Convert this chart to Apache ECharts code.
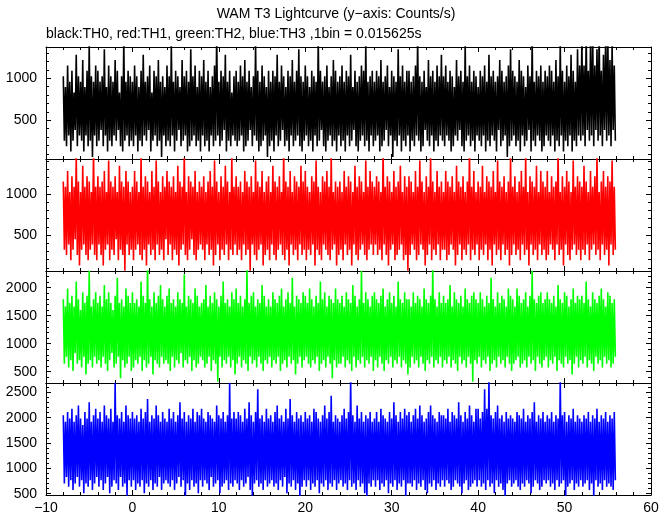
<!DOCTYPE html>
<html><head><meta charset="utf-8">
<script src="https://cdn.jsdelivr.net/npm/echarts@6/dist/echarts.min.js"></script>
<style>html,body{margin:0;padding:0;background:#fff}#c{width:672px;height:515px}</style>
</head><body><div id="c"></div>
<script>
const titleText = 'WAM T3 Lightcurve (y\u2212axis: Counts/s)';
const subtitleText = 'black:TH0, red:TH1, green:TH2, blue:TH3 ,1bin = 0.015625s';
const binSize = 0.015625;      // s per bin
const tStart = -8;             // s, first sample
const tStep = 0.125;           // s between plotted samples
const xMin = -10, xMax = 60, xInterval = 10;

// counts per bin
const th0 = [
16,4,14,3,18,5,15,2,17,4,13,6,20,3,16,5,15,4,19,2,14,5,17,3,22,4,16,1,15,5,18,3,
17,4,15,6,16,3,21,5,14,2,18,4,16,3,15,5,19,4,17,6,13,3,16,2,23,4,15,5,17,3,16,4,
15,3,18,5,16,2,14,4,17,3,20,5,15,4,16,6,18,2,13,4,17,5,16,3,19,4,15,1,16,5,14,3,
18,4,16,3,22,5,15,2,17,4,16,6,14,3,19,4,16,5,17,2,15,3,21,4,16,5,18,3,14,4,17,2,
16,5,19,3,15,4,17,2,14,5,16,3,18,4,24,5,15,3,17,4,16,6,20,2,15,4,17,3,13,5,16,4,
17,3,15,4,18,5,16,2,19,3,15,4,17,6,14,3,16,5,22,4,17,2,15,3,18,4,16,5,14,1,17,3,
15,4,17,2,16,5,20,3,15,4,18,6,16,3,14,4,17,2,16,5,19,3,15,4,17,5,21,3,16,2,15,4,
18,5,16,3,14,4,17,2,16,5,15,3,23,4,17,6,15,3,16,2,18,4,14,5,16,3,19,4,17,2,15,5,
16,3,18,4,15,2,17,5,16,3,20,4,14,6,17,3,15,2,16,4,18,5,17,3,22,4,15,2,16,5,17,3,
15,4,17,5,16,2,19,3,15,4,16,6,18,3,14,5,17,1,16,4,15,3,21,5,16,2,18,4,15,3,17,5,
17,2,15,4,16,3,18,5,23,4,16,2,15,3,17,6,14,4,19,3,16,5,17,2,15,4,18,3,16,5,20,4,
16,3,18,5,15,4,17,2,16,3,14,5,19,4,16,6,17,3,15,2,22,4,16,5,18,3,15,4,17,2,16,5,
14,4,17,3,16,5,18,2,15,4,20,3,16,5,17,4,15,2,16,6,19,3,17,4,15,5,16,1,18,3,21,4,
17,5,16,3,15,4,19,2,17,5,16,3,14,4,18,6,16,2,23,4,15,3,17,5,16,4,18,2,15,3,17,5,
16,4,18,3,17,5,15,2,19,4,16,3,22,5,17,2,15,4,18,3,16,5,20,2,17,4,15,3,21,5,18,4,
23,5,18,3,24,6,17,4,22,5,24,3,18,6,21,4,24,5,17,3,20,6,23,4,24,5,19,3,22,6,18,4
];
const th1 = [
18,5,17,4,20,6,16,3,19,5,17,7,23,4,18,2,16,5,21,6,17,4,19,3,18,5,16,6,24,4,17,3,
19,6,17,4,18,2,20,5,16,6,22,3,18,5,17,4,19,7,16,3,21,5,18,4,17,1,20,6,18,4,16,5,
17,3,20,5,18,6,16,4,23,3,17,5,19,2,18,6,16,4,20,5,17,3,22,6,18,4,16,5,19,3,17,7,
20,4,18,6,17,3,19,5,16,4,21,2,18,5,17,6,24,4,16,3,19,5,18,7,17,4,20,3,16,5,18,6,
17,5,19,3,16,6,18,4,20,5,17,2,22,4,18,6,16,3,19,5,17,4,21,6,18,3,16,5,23,4,17,6,
19,4,17,5,18,3,16,6,20,4,18,5,17,1,19,6,16,4,22,3,18,5,17,6,20,2,16,4,18,5,19,3,
16,6,21,4,18,3,17,5,19,6,16,4,24,3,18,5,17,2,20,6,16,4,19,5,18,3,17,6,21,4,18,5,
20,3,17,5,16,4,19,6,18,2,22,5,17,4,16,3,19,6,18,5,20,4,17,3,23,5,16,6,18,2,17,4,
18,5,16,3,20,6,17,4,19,5,18,2,16,6,21,4,17,3,19,5,18,6,16,4,22,3,17,5,20,6,18,4,
17,6,19,4,18,5,16,3,24,6,17,4,19,2,18,5,16,6,20,3,17,4,18,5,21,6,16,3,19,4,17,1,
19,4,18,6,16,5,20,3,17,4,22,6,18,5,16,2,19,4,17,6,23,3,18,5,16,4,20,6,17,3,18,5,
16,5,20,3,18,4,17,6,19,5,16,2,21,4,18,6,17,3,19,5,16,4,18,6,24,3,17,5,20,4,16,6,
18,3,17,5,21,4,16,6,19,3,18,5,17,2,20,6,16,4,22,5,18,3,17,6,19,4,16,5,18,2,23,4,
17,6,19,4,16,5,18,3,20,6,17,4,23,5,16,2,19,6,18,4,17,5,21,3,16,6,20,4,18,5,17,3,
20,4,16,6,19,5,17,3,18,6,24,4,16,5,19,2,17,6,20,4,18,3,16,5,22,6,17,4,19,5,18,3,
17,5,21,4,18,6,16,3,20,5,17,6,19,4,23,5,16,3,18,6,20,4,17,5,19,2,18,6,22,4,17,5
];
const th2 = [
28,10,26,12,31,9,27,11,29,8,26,13,33,10,28,11,25,9,30,12,27,7,29,10,36,11,26,9,28,12,30,10,
27,11,29,9,26,12,32,10,28,8,30,11,27,13,25,9,29,10,34,12,27,6,28,11,26,9,31,10,29,12,27,8,
30,9,27,11,28,10,26,12,33,8,29,11,27,9,38,10,28,12,26,7,30,11,27,10,29,9,32,12,28,10,26,11,
29,10,31,8,27,12,28,9,26,11,30,10,28,13,27,9,35,11,26,10,29,12,28,8,27,11,31,9,29,10,26,12,
27,11,28,9,32,10,26,12,29,8,27,11,30,10,28,5,26,12,29,9,33,11,27,10,28,12,26,9,30,11,28,7,
31,10,27,12,29,9,26,11,28,10,37,8,27,12,29,10,30,11,26,9,28,12,27,10,32,8,29,11,26,10,28,12,
26,9,30,11,28,10,27,12,29,8,31,10,26,11,28,9,30,12,27,10,34,11,26,7,29,10,28,12,27,9,30,11,
29,12,27,10,31,9,28,11,26,10,29,12,27,8,33,10,28,11,30,9,26,12,29,10,28,6,27,11,31,9,28,10,
27,10,29,12,26,9,30,11,28,10,27,8,32,12,29,9,26,11,28,10,36,12,27,9,30,11,28,10,26,12,29,8,
30,11,28,9,27,12,29,10,31,8,26,11,28,10,30,12,27,9,29,11,26,10,33,12,28,9,27,11,30,10,28,7,
28,9,26,12,30,10,27,11,29,9,28,12,26,10,31,8,28,11,27,10,29,12,37,9,28,11,26,10,30,12,27,9,
29,11,27,10,28,12,32,9,26,11,30,10,28,8,27,12,29,10,26,11,31,9,28,12,27,10,29,5,30,11,28,10,
27,12,30,9,28,11,26,10,29,12,27,8,34,10,28,11,26,9,30,12,27,10,29,11,28,9,26,12,31,10,29,8,
28,10,26,11,31,12,29,9,27,10,28,11,30,9,26,12,29,10,36,11,28,8,27,12,29,10,30,9,27,11,28,12,
30,9,28,11,27,10,29,12,26,8,32,11,28,10,27,9,30,12,29,10,26,11,28,7,31,10,27,12,29,9,28,11,
29,10,27,12,33,9,28,11,26,10,30,8,28,12,27,10,29,11,31,9,28,12,26,10,30,11,29,9,27,10,28,12
];
const th3 = [
32,11,30,13,33,10,31,12,34,9,30,11,32,13,35,10,31,12,29,8,33,11,31,10,36,12,30,9,32,11,34,13,
31,10,33,12,30,9,35,11,32,13,31,8,34,10,30,12,42,11,32,9,31,13,33,10,30,11,35,7,32,12,31,10,
33,12,31,9,32,11,30,10,34,12,31,8,33,11,37,10,30,12,32,9,31,11,35,10,32,13,30,9,33,11,31,12,
30,11,34,10,31,12,33,9,30,11,32,13,36,10,31,12,33,6,30,11,32,9,31,12,34,10,30,11,33,8,32,12,
34,10,31,12,30,11,33,9,32,13,31,10,30,11,35,12,32,8,31,10,33,11,30,12,32,9,42,11,31,10,33,12,
31,11,33,9,32,12,30,10,34,11,31,13,36,9,32,7,30,11,33,12,40,10,31,11,32,9,30,12,34,10,31,11,
32,12,30,10,33,11,35,9,31,12,32,10,30,13,34,8,31,11,37,10,32,12,30,9,33,11,31,6,32,10,30,12,
33,10,31,12,32,9,30,11,34,10,33,12,31,8,30,11,32,10,35,12,31,9,33,11,38,10,30,12,32,9,31,11,
30,12,32,10,34,11,31,9,33,12,43,10,32,11,30,9,35,12,31,10,33,11,30,8,32,6,31,11,33,10,30,12,
31,10,33,12,30,9,34,11,32,10,31,12,30,8,33,11,31,10,36,12,32,9,30,11,33,10,31,12,34,7,32,11,
33,11,30,10,32,12,34,9,31,11,35,10,32,12,30,9,31,8,33,11,35,10,32,12,31,9,30,11,33,10,32,12,
32,10,31,12,34,11,30,9,33,10,32,12,31,11,36,10,32,8,30,11,33,12,31,9,35,10,32,11,30,12,34,10,
34,12,31,10,33,11,40,9,34,12,43,10,32,11,31,8,33,12,35,10,31,11,32,9,30,6,33,11,31,12,32,10,
31,11,30,12,33,10,32,9,31,11,34,10,30,12,32,11,31,8,33,10,36,12,30,11,32,9,31,10,33,12,30,11,
32,12,31,10,33,11,30,9,32,12,31,10,43,11,32,12,33,6,30,10,32,11,31,12,34,9,30,11,32,10,31,12,
30,10,32,11,31,12,33,9,30,11,32,7,31,12,34,10,30,11,32,9,31,12,33,10,30,11,32,10,31,9,33,12
];

const channels = [th0, th1, th2, th3];
const channelNames = ['TH0', 'TH1', 'TH2', 'TH3'];
const yMins = [40, 61, 298, 475];
const yMaxs = [1372, 1427, 2298, 2684];
const ySplits = [3, 3, 4, 4];

const colors = ['#000000', '#ff0000', '#00ff00', '#0000ff'];
const FONT = '"Liberation Sans", Arial, Helvetica, sans-serif';
const gridLeft = 46, gridWidth = 605, gridTop = 47, panelH = 112;

const grids = [], xAxes = [], yAxes = [], series = [];
const tick = { show: true, inside: true, length: 5, lineStyle: { color: '#000', width: 1 } };
const minor = { show: true, splitNumber: 5, length: 3, lineStyle: { color: '#000', width: 1 } };
const line = { show: true, onZero: false, lineStyle: { color: '#000', width: 1 } };
const fmtX = v => (v < 0 ? '\u2212' + (-v) : String(v));
const fmtY = v => String(v);

channels.forEach((counts, i) => {
  grids.push({ left: gridLeft, top: gridTop + i * panelH, width: gridWidth, height: panelH, show: false });
  ['bottom', 'top'].forEach(pos => {
    xAxes.push({
      type: 'value', gridIndex: i, position: pos, min: xMin, max: xMax, interval: xInterval,
      axisLine: line, axisTick: tick, minorTick: minor, splitLine: { show: false },
      axisLabel: {
        show: i === 3 && pos === 'bottom', color: '#000', fontSize: 14, fontFamily: FONT,
        margin: 6, formatter: fmtX
      }
    });
  });
  ['left', 'right'].forEach(pos => {
    yAxes.push({
      type: 'value', gridIndex: i, position: pos, min: yMins[i], max: yMaxs[i], splitNumber: ySplits[i],
      axisLine: line, axisTick: tick, minorTick: minor, splitLine: { show: false },
      axisLabel: {
        show: pos === 'left', color: '#000', fontSize: 14, fontFamily: FONT, margin: 9,
        showMinLabel: false, showMaxLabel: false, formatter: fmtY
      }
    });
  });
  series.push({
    name: channelNames[i], type: 'line', xAxisIndex: i * 2, yAxisIndex: i * 2,
    data: counts.map((c, k) => [tStart + k * tStep, c / binSize]),
    showSymbol: false, symbol: 'none', clip: true, sampling: null,
    lineStyle: { color: colors[i], width: 1.6, join: 'bevel' }, itemStyle: { color: colors[i] },
    z: 1
  });
});

const chart = echarts.init(document.getElementById('c'), null, { renderer: 'canvas' });
chart.setOption({
  animation: false,
  backgroundColor: '#ffffff',
  title: [
    { text: titleText, left: 'center', top: 7, padding: 0,
      textStyle: { color: '#000', fontSize: 14, fontWeight: 'normal', fontFamily: FONT } },
    { text: subtitleText, left: 46, top: 27, padding: 0,
      textStyle: { color: '#000', fontSize: 14, fontWeight: 'normal', fontFamily: FONT } }
  ],
  grid: grids, xAxis: xAxes, yAxis: yAxes, series: series
});
</script></body></html>
